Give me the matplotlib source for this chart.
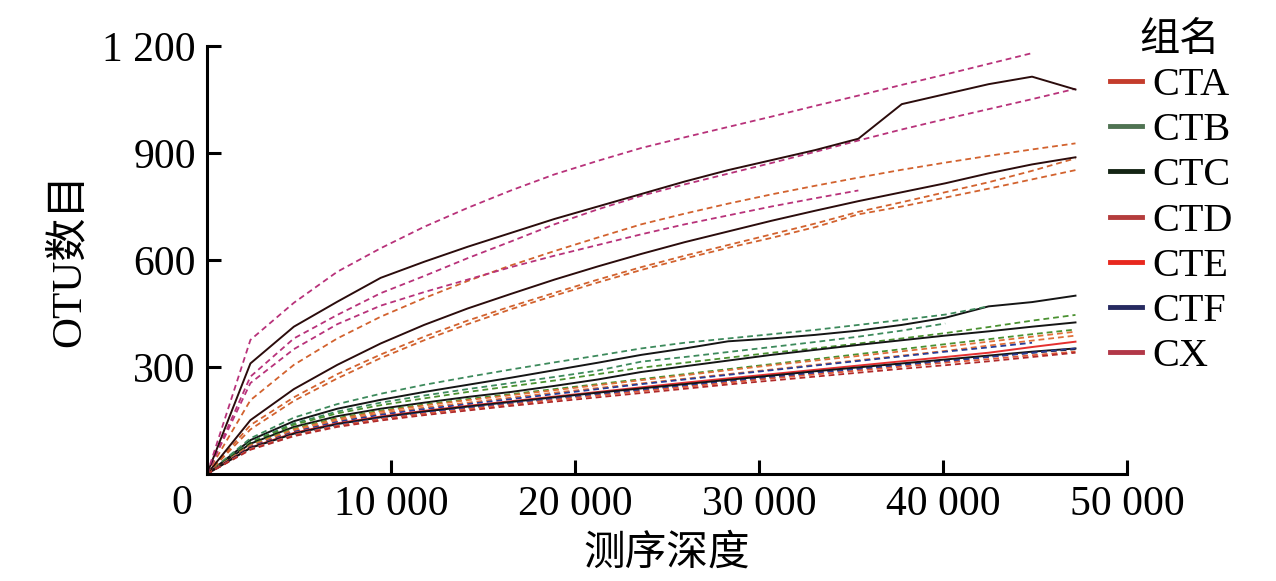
import matplotlib
matplotlib.use("Agg")
import matplotlib.pyplot as plt
from matplotlib.lines import Line2D

plt.rcParams['font.family'] = ['Liberation Serif', 'Noto Sans CJK SC']

# ---------------- data ----------------
depth = [0, 2360, 4720, 7080, 9440, 11800, 14160, 16520, 18880, 21240, 23600,
         25960, 28320, 30680, 33040, 35400, 37760, 40120, 42480, 44840, 47200]

# upper curves
curve_a = [0, 376, 480, 567, 633, 693, 746, 795, 840, 878, 914, 944, 973, 1002, 1032, 1061, 1091, 1120, 1150, 1180]
curve_b = [0, 310, 413, 483, 550, 595, 637, 676, 715, 750, 785, 820, 852, 880, 908, 940, 1037, 1065, 1093, 1114, 1078]
curve_c = [0, 273, 380, 446, 507, 555, 605, 652, 700, 742, 780, 812, 842, 872, 903, 935, 966, 995, 1023, 1051, 1080]
curve_d = [0, 255, 350, 420, 472, 510, 545, 580, 612, 642, 672, 700, 725, 750, 773, 795]
curve_e = [0, 207, 306, 380, 441, 493, 541, 585, 625, 663, 700, 730, 758, 784, 808, 831, 853, 873, 892, 910, 927]
curve_f = [0, 151, 238, 306, 366, 418, 464, 505, 545, 582, 617, 650, 680, 710, 738, 765, 790, 815, 843, 868, 888]
curve_g = [0, 137, 215, 280, 335, 385, 430, 470, 508, 545, 580, 612, 642, 672, 702, 735, 762, 790, 818, 850, 885]
curve_h = [0, 125, 205, 268, 325, 375, 420, 462, 500, 537, 572, 604, 634, 662, 692, 728, 750, 775, 800, 826, 852]

# lower cluster
curve_l01 = [0, 95, 148, 183, 208, 230, 250, 270, 291, 312, 334, 352, 372, 380, 390, 402, 418, 438, 470, 482, 500]
curve_l02 = [0, 100, 158, 196, 225, 250, 272, 293, 313, 332, 352, 368, 380, 392, 404, 418, 432, 447, 470]
curve_l03 = [0, 90, 142, 175, 200, 220, 238, 255, 272, 290, 315, 328, 342, 356, 370, 385, 402, 422]
curve_l04 = [0, 88, 138, 170, 193, 212, 230, 246, 262, 280, 298, 312, 326, 340, 352, 366, 380, 395, 412, 430, 446]
curve_l05 = [0, 85, 132, 162, 183, 200, 216, 230, 247, 265, 286, 302, 318, 334, 348, 362, 375, 388, 400, 413, 425]
curve_l06 = [0, 82, 128, 157, 178, 195, 210, 224, 238, 252, 266, 280, 294, 308, 322, 336, 350, 364, 378, 392, 405]
curve_l07 = [0, 80, 125, 154, 175, 192, 207, 221, 235, 249, 263, 277, 291, 305, 318, 331, 344, 357, 371, 385, 399]
curve_l08 = [0, 78, 121, 150, 170, 186, 200, 214, 228, 241, 254, 267, 280, 293, 306, 319, 332, 345, 360, 374, 388]
curve_l09 = [0, 76, 118, 146, 166, 182, 196, 210, 224, 238, 252, 265, 278, 291, 304, 317, 330, 343, 355, 368]
curve_l10 = [0, 74, 115, 142, 161, 177, 191, 204, 217, 230, 243, 256, 268, 280, 292, 304, 316, 328, 340, 356, 371]
curve_l11 = [0, 73, 113, 140, 159, 175, 189, 202, 215, 228, 240, 252, 264, 276, 288, 299, 310, 321, 332, 343, 352]
curve_l12 = [0, 72, 112, 138, 157, 172, 186, 199, 212, 225, 237, 249, 261, 273, 285, 296, 307, 318, 329, 340, 350]
curve_l13 = [0, 71, 110, 137, 156, 171, 185, 198, 211, 223, 235, 247, 259, 271, 283, 294, 305, 316, 328, 340, 352]
curve_l14 = [0, 70, 109, 135, 154, 169, 182, 195, 208, 220, 232, 244, 256, 268, 279, 290, 301, 312, 322, 333, 343]
curve_l15 = [0, 68, 106, 132, 150, 165, 178, 191, 203, 215, 227, 239, 251, 262, 273, 284, 295, 305, 316, 328, 340]

legend_title = '组名'
groups = ['CTA', 'CTB', 'CTC', 'CTD', 'CTE', 'CTF', 'CX']
group_colors = ['#c43c2c', '#4f7352', '#142414', '#b43c3c', '#e8281e', '#262a60', '#b23848']

x_ticks = [10000, 20000, 30000, 40000, 50000]
x_tick_labels = ['10 000', '20 000', '30 000', '40 000', '50 000']
y_ticks = [300, 600, 900, 1200]
y_tick_labels = ['300', '600', '900', '1 200']

# ---------------- styles ----------------
MAG = '#b8327a'
ORA = '#d2622e'
DBR = '#2b0c0c'
GRN1 = '#3d8a5c'
GRN2 = '#4a9130'
ORA2 = '#e0703a'
NAV = '#283c96'
RED = '#e53030'
BLK = '#151515'
ORR = '#e05a3a'
DRD = '#b02a2a'

series = [
    (curve_l01, BLK, '-'), (curve_l02, GRN1, '--'), (curve_l03, GRN1, '--'),
    (curve_l04, GRN2, '--'), (curve_l05, BLK, '-'), (curve_l06, GRN2, '--'),
    (curve_l07, ORA2, '--'), (curve_l08, ORA2, '--'), (curve_l09, NAV, '--'),
    (curve_l10, RED, '-'), (curve_l11, BLK, '-'), (curve_l12, BLK, '--'),
    (curve_l13, NAV, '--'), (curve_l14, ORR, '--'), (curve_l15, DRD, '--'),
    (curve_h, ORA, '--'), (curve_g, ORA, '--'), (curve_f, DBR, '-'),
    (curve_e, ORA, '--'), (curve_d, MAG, '--'), (curve_c, MAG, '--'),
    (curve_b, DBR, '-'), (curve_a, MAG, '--'),
]

fig = plt.figure(figsize=(12.76, 5.81), dpi=100)
ax = fig.add_axes([207 / 1276, 1 - 474 / 581, 920 / 1276, 428 / 581])

for vals, col, ls in series:
    if ls == '-':
        ax.plot(depth[:len(vals)], vals, color=col, lw=1.4, ls='-')
    else:
        ax.plot(depth[:len(vals)], vals, color=col, lw=1.3, ls=(0, (3.2, 2.2)))

ax.set_xlim(0, 50000)
ax.set_ylim(0, 1200)
for s in ['top', 'right']:
    ax.spines[s].set_visible(False)
for s in ['left', 'bottom']:
    ax.spines[s].set_linewidth(2.2)

ax.set_xticks(x_ticks)
ax.set_xticklabels(x_tick_labels)
ax.set_yticks(y_ticks)
ax.set_yticklabels(y_tick_labels)
ax.tick_params(axis='both', direction='in', length=10, width=2.2, labelsize=30, pad=8)
ax.annotate('0', xy=(0, 0), xycoords='data', xytext=(-25, -10), textcoords='offset pixels',
            ha='center', va='top', fontsize=30)

ax.set_xlabel('测序深度', fontsize=30, labelpad=8)
ax.set_ylabel('OTU数目', fontsize=31, labelpad=10)

handles = [Line2D([0], [0], color=c, lw=3.5) for c in group_colors]
leg = fig.legend(handles, groups, loc='center left', bbox_to_anchor=(1094 / 1276, 1 - 221 / 581),
                 frameon=False, fontsize=29,
                 handlelength=0.8, handletextpad=0.25, labelspacing=0.2, borderaxespad=0)
fig.text(1180 / 1276, 1 - 41 / 581, legend_title, ha='center', va='center', fontsize=29)

fig.savefig('out.png', dpi=100)
